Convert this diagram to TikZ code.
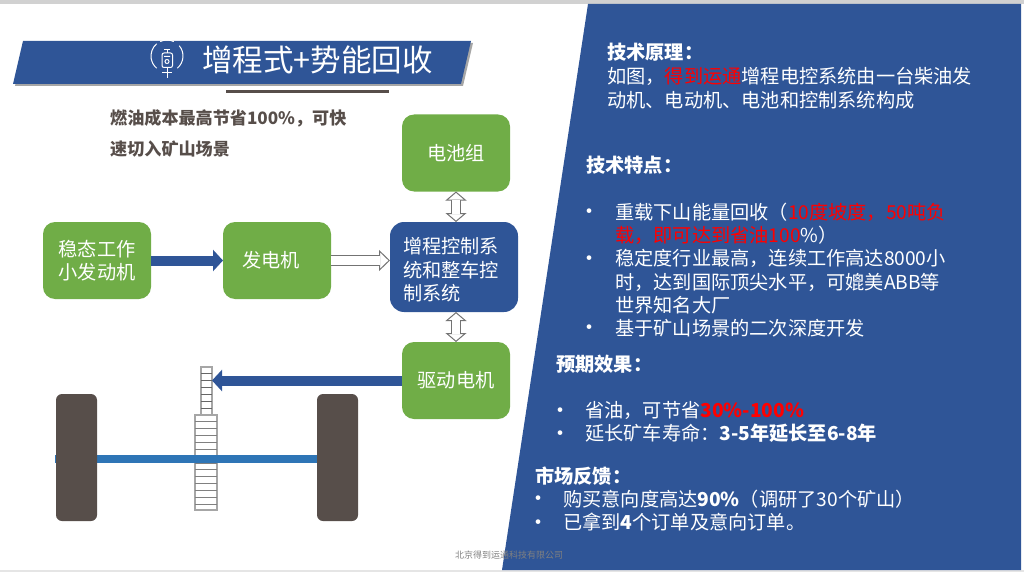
\documentclass[tikz,border=0pt]{standalone}
\usepackage{fontspec}
\setmainfont{Noto Sans CJK SC}
\usetikzlibrary{positioning,arrows.meta}
\definecolor{navy}{HTML}{2F5597}
\definecolor{leaf}{HTML}{70AD47}
\definecolor{tyre}{HTML}{574E4A}
\definecolor{shaft}{HTML}{2E75B6}
\definecolor{hot}{HTML}{FF0000}
\tikzset{
    >=Stealth,
    greenbox/.style={rectangle, rounded corners=12pt, fill=leaf, text=white, align=center, minimum width=108pt, minimum height=77pt, inner sep=0pt, outer sep=0pt, font=\fontsize{19.2}{23.3}\selectfont},
    bluebox/.style={greenbox, fill=navy, rounded corners=14pt, minimum height=90pt, align=left, text width=102pt, inner xsep=13pt},
    wheel/.style={rectangle, rounded corners=6pt, fill=tyre, minimum width=41pt, minimum height=127pt, inner sep=0pt, outer sep=0pt},
    gear/.style={rectangle, draw=black!35, line width=1.2pt, inner sep=0pt, outer sep=0pt},
    fatarrow/.style={navy, line width=10pt, -{Triangle[length=10pt,width=21pt]}},
    openarrow/.style={draw=black!55, line width=11pt, -{Triangle[open,fill=white,line width=1pt,length=11pt,width=21pt]},
        postaction={draw=white, line width=9pt, -, shorten >=10pt}},
    bothways/.style={draw=black!55, line width=10pt, {Triangle[open,fill=white,line width=1pt,length=9pt,width=21pt]}-{Triangle[open,fill=white,line width=1pt,length=9pt,width=21pt]},
        postaction={draw=white, line width=8pt, -, shorten >=8pt, shorten <=8pt}},
    panelhead/.style={anchor=base west, text=white, inner sep=0pt, font=\fontsize{19.2}{23.3}\selectfont\bfseries},
    paneltext/.style={anchor=north west, text=white, inner sep=0pt, align=left, font=\fontsize{19.2}{23.3}\selectfont},
    bullet/.style={anchor=base, text=white, inner sep=0pt, font=\fontsize{22}{22}\selectfont}
}
\newcommand{\hot}[1]{\textcolor{hot}{#1}}
\begin{document}
\begin{tikzpicture}[x=1pt, y=-1pt]
    \useasboundingbox (0,0) rectangle (1024,572);
    % page edges
    \fill[black!18] (0,0) rectangle (1024,4);
    \fill[black!10] (0,570) rectangle (1024,572);
    % right panel
    \fill[navy] (588,4) -- (1021,4) -- (1021,570) -- (502,570) -- cycle;
    % title bar
    \fill[black!35] (25,43) -- (473,43) -- (463,86) -- (15,86) -- cycle;
    \fill[navy] (23,41) -- (471,41) -- (461,84) -- (13,84) -- cycle;
    \node[text=white, inner sep=0pt, anchor=base west, font=\fontsize{30.5}{30.5}\selectfont] (title) at (202,72) {增程式+势能回收};
    % title icon
    \foreach \a/\b in {-130/-230, -65/-115, -40/50}
        \draw[white, line width=1pt] ([shift={(\a:16)}]167,56) arc[start angle=\a, end angle=\b, radius=16];
    \draw[white, line width=1pt, rounded corners=2pt] (162,53) rectangle (172.5,67.5);
    \draw[white, line width=1pt] (164,50) -- (170,50) (167,50) -- (167,53) (167,67.5) -- (167,78) (162,72.5) -- (172,72.5);
    \draw[white, line width=1pt] (167,61.5) circle (2pt) (164,56.5) -- (170,56.5);
    \draw[tyre, line width=3pt] (226,92) -- (389,92);
    \node[anchor=north west, text=tyre, inner sep=0pt, align=left, font=\fontsize{17.1}{31}\selectfont\bfseries] (slogan) at (110,109) {燃油成本最高节省100\%，可快\\速切入矿山场景};

    % powertrain blocks
    \node[greenbox] (engine) at (97,260.5) {稳态工作\\小发动机};
    \node[greenbox, right=72pt of engine] (generator) {\raisebox{-1.5pt}{发电机}\hspace{12pt}};
    \node[bluebox] (control) at (454,267) {\rule{0pt}{22pt}增程控制系\\统和整车控\\制系统};
    \node[greenbox] (battery) at (456,153) {电池组};
    \node[greenbox] (motor) at (456,380.5) {\raisebox{-1.5pt}{驱动电机}};

    % gears and axle
    \node[gear, minimum width=11pt, minimum height=48pt] (pinion) at (206.5,391) {};
    \node[gear, minimum width=22pt, minimum height=95pt] (crown) at (206,462.5) {};
    \foreach \k in {1,...,6}
        \draw[black!60] (201,366+7*\k) -- (212,366+7*\k);
    \foreach \k in {1,...,13}
        \draw[black!50, line width=0.8pt] (195,415+6.85*\k) -- (217,415+6.85*\k);
    \coordinate (axleleft) at (55,459);
    \coordinate (axleright) at (358,459);
    \draw[shaft, line width=8pt] (axleleft) -- (axleright);
    \node[wheel] (wheelleft) at (76.5,457.5) {};
    \node[wheel] (wheelright) at (337.5,457.5) {};

    % connectors
    \draw[fatarrow] (engine) -- (generator);
    \draw[openarrow] (generator.east) -- (generator.east -| control.west);
    \draw[bothways] (battery.south) -- (battery.south |- control.north);
    \draw[bothways] (motor.north) -- (motor.north |- control.south);
    \draw[fatarrow] (motor.west) -- (motor.west -| pinion.east);

    % panel text
    \node[panelhead] (headprinciple) at (607,60) {技术原理：};
    \node[paneltext] (principle) at (607,67.5) {如图，\hot{得到运通}增程电控系统由一台柴油发\\动机、电动机、电池和控制系统构成};
    \node[panelhead] (headfeature) at (586,172) {技术特点：};
    \node[paneltext] (feature) at (615,202.5) {重载下山能量回收（\hot{10度坡度，50吨负}\\\hot{载，即可达到省油100}\%）\\稳定度行业最高，连续工作高达8000小\\时，达到国际顶尖水平，可媲美ABB等\\世界知名大厂\\基于矿山场景的二次深度开发};
    \node[panelhead] (headeffect) at (556,371) {预期效果：};
    \node[paneltext] (effect) at (585,401) {省油，可节省{\bfseries\hot{30\%-100\%}}\\延长矿车寿命：\textbf{3-5年延长至6-8年}};
    \node[panelhead] (headmarket) at (535,483) {市场反馈：};
    \node[paneltext] (market) at (563,489.5) {购买意向度高达\textbf{90\%}（调研了30个矿山）\\已拿到\textbf{4}个订单及意向订单。};
    \foreach \x/\y in {589/219, 589/266, 589/335, 560/418, 560/441, 538/506, 538/530}
        \node[bullet] (dot\y) at (\x,\y) {•};
    \node[text=black!50, inner sep=0pt, font=\fontsize{9}{9}\selectfont] (footer) at (509,555) {北京得到运通科技有限公司};
\end{tikzpicture}
\end{document}
